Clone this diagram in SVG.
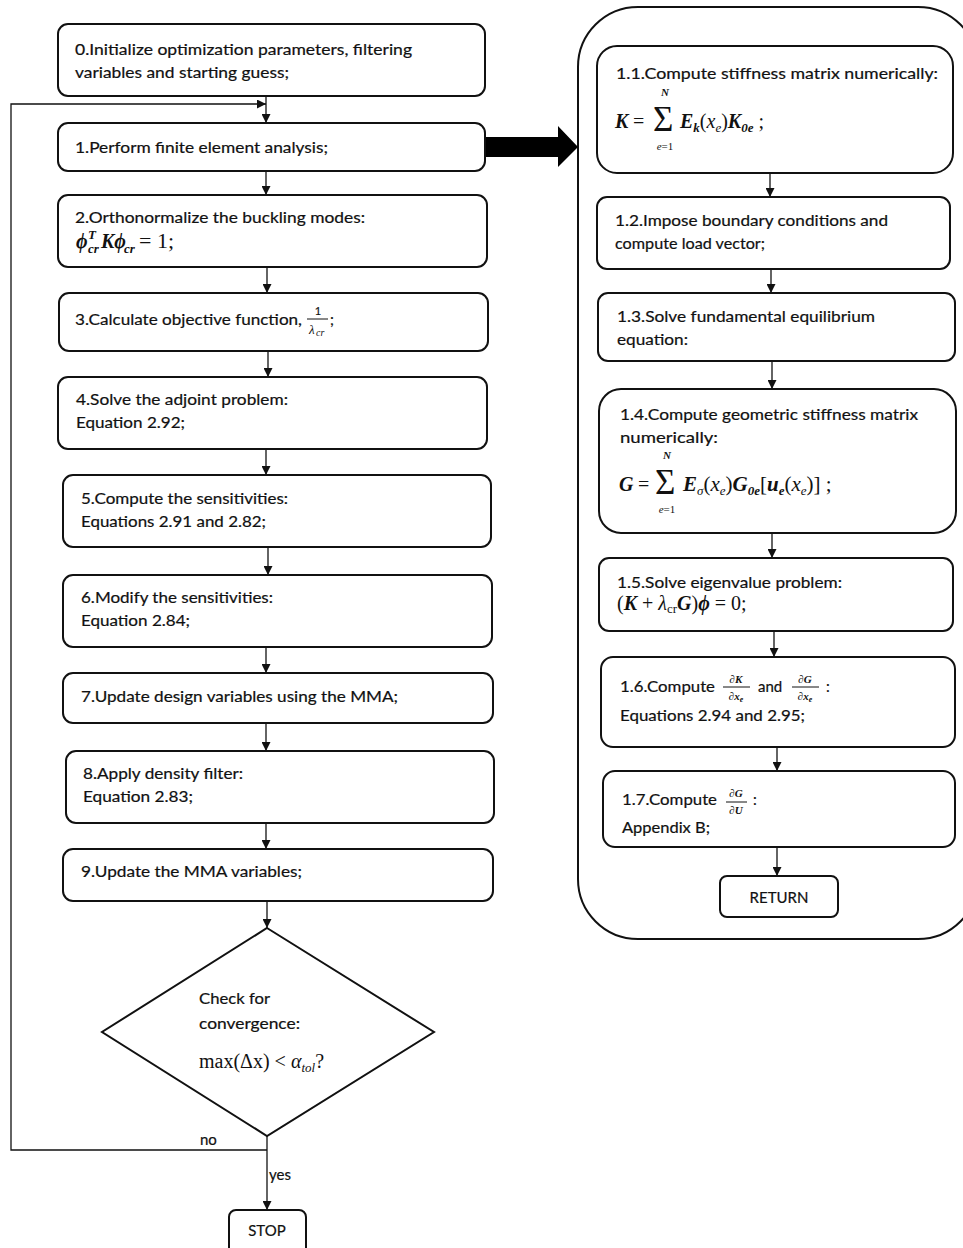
<svg xmlns="http://www.w3.org/2000/svg" width="963" height="1248" viewBox="0 0 963 1248">
<defs>
<style>
.bx{fill:#fff;stroke:#111;stroke-width:2}
.t{font-family:Lato,"Open Sans","Liberation Sans",sans-serif;font-size:15px;fill:#111;stroke:#111;stroke-width:0.2}
.m{font-family:"Liberation Serif","DejaVu Serif",serif;font-size:20px;fill:#111}
.bi{font-weight:bold;font-style:italic}
.i{font-style:italic}
.s{font-size:13px}
.f{font-size:11px}
.sig{font-size:35px}
.c line,.c polyline{stroke:#111;stroke-width:1.3;fill:none}
.fl{stroke:#111;stroke-width:1}
</style>
<marker id="ah" viewBox="0 0 10 10" refX="10" refY="5" markerWidth="9" markerHeight="9" markerUnits="userSpaceOnUse" orient="auto"><path d="M0,0L10,5L0,10z" fill="#111"/></marker>
</defs>
<rect width="963" height="1248" fill="#fff"/>

<g id="panel"><rect class="bx" x="578" y="7" width="400" height="932" rx="60"/></g>

<g class="c" id="connectors">
<line x1="266" y1="96" x2="266" y2="123" marker-end="url(#ah)"/>
<line x1="266" y1="171" x2="266" y2="195" marker-end="url(#ah)"/>
<line x1="267" y1="267" x2="267" y2="293" marker-end="url(#ah)"/>
<line x1="268" y1="351" x2="268" y2="377" marker-end="url(#ah)"/>
<line x1="266" y1="449" x2="266" y2="475" marker-end="url(#ah)"/>
<line x1="268" y1="547" x2="268" y2="575" marker-end="url(#ah)"/>
<line x1="266" y1="647" x2="266" y2="673" marker-end="url(#ah)"/>
<line x1="266" y1="723" x2="266" y2="751" marker-end="url(#ah)"/>
<line x1="266" y1="823" x2="266" y2="849" marker-end="url(#ah)"/>
<line x1="267" y1="901" x2="267" y2="928" marker-end="url(#ah)"/>
<line x1="267" y1="1136" x2="267" y2="1210" marker-end="url(#ah)"/>
<polyline points="267,1150 11,1150 11,104 266,104" marker-end="url(#ah)"/>
<polygon points="485,137 558,137 558,126 578,147 558,167 558,157 485,157" fill="#000"/>
<line x1="770" y1="173" x2="770" y2="197" marker-end="url(#ah)"/>
<line x1="771" y1="269" x2="771" y2="293" marker-end="url(#ah)"/>
<line x1="772" y1="361" x2="772" y2="389" marker-end="url(#ah)"/>
<line x1="772" y1="533" x2="772" y2="558" marker-end="url(#ah)"/>
<line x1="774" y1="631" x2="774" y2="657" marker-end="url(#ah)"/>
<line x1="777" y1="747" x2="777" y2="771" marker-end="url(#ah)"/>
<line x1="777" y1="847" x2="777" y2="876" marker-end="url(#ah)"/>
</g>

<g id="n0"><rect class="bx" x="58" y="24" width="427" height="72" rx="10"/>
<text class="t" x="75" y="55" textLength="337" lengthAdjust="spacingAndGlyphs">0.Initialize optimization parameters, filtering</text>
<text class="t" x="75" y="78" textLength="214" lengthAdjust="spacingAndGlyphs">variables and starting guess;</text></g>

<g id="n1"><rect class="bx" x="58" y="123" width="427" height="48" rx="10"/>
<text class="t" x="75" y="153" textLength="253" lengthAdjust="spacingAndGlyphs">1.Perform finite element analysis;</text></g>

<g id="n2"><rect class="bx" x="58" y="195" width="429" height="72" rx="10"/>
<text class="t" x="75" y="223" textLength="290" lengthAdjust="spacingAndGlyphs">2.Orthonormalize the buckling modes:</text>
<text class="m bi" x="76" y="248">ϕ</text>
<text class="m bi s" x="88" y="239">T</text>
<text class="m bi s" x="88" y="253">cr</text>
<text class="m bi" x="101" y="248">Kϕ</text>
<text class="m bi s" x="124" y="253">cr</text>
<text class="m" x="139" y="248" style="font-size:22px">= 1;</text></g>

<g id="n3"><rect class="bx" x="59" y="293" width="429" height="58" rx="10"/>
<text class="t" x="75" y="325" textLength="227" lengthAdjust="spacingAndGlyphs">3.Calculate objective function,</text>
<text class="t" x="318" y="315" text-anchor="middle" style="font-size:11px">1</text>
<line class="fl" x1="307" y1="319" x2="328" y2="319"/>
<text class="m i" x="309" y="334" style="font-size:13px">λ</text>
<text class="m i" x="316" y="336" style="font-size:10px">cr</text>
<text class="t" x="330" y="325">;</text></g>

<g id="n4"><rect class="bx" x="58" y="377" width="429" height="72" rx="10"/>
<text class="t" x="76" y="405" textLength="212" lengthAdjust="spacingAndGlyphs">4.Solve the adjoint problem:</text>
<text class="t" x="76" y="428" textLength="109" lengthAdjust="spacingAndGlyphs">Equation 2.92;</text></g>

<g id="n5"><rect class="bx" x="63" y="475" width="428" height="72" rx="10"/>
<text class="t" x="81" y="504" textLength="207" lengthAdjust="spacingAndGlyphs">5.Compute the sensitivities:</text>
<text class="t" x="81" y="527" textLength="185" lengthAdjust="spacingAndGlyphs">Equations 2.91 and 2.82;</text></g>

<g id="n6"><rect class="bx" x="63" y="575" width="429" height="72" rx="10"/>
<text class="t" x="81" y="603" textLength="192" lengthAdjust="spacingAndGlyphs">6.Modify the sensitivities:</text>
<text class="t" x="81" y="626" textLength="109" lengthAdjust="spacingAndGlyphs">Equation 2.84;</text></g>

<g id="n7"><rect class="bx" x="63" y="673" width="430" height="50" rx="10"/>
<text class="t" x="81" y="702" textLength="317" lengthAdjust="spacingAndGlyphs">7.Update design variables using the MMA;</text></g>

<g id="n8"><rect class="bx" x="66" y="751" width="428" height="72" rx="10"/>
<text class="t" x="83" y="779" textLength="160" lengthAdjust="spacingAndGlyphs">8.Apply density filter:</text>
<text class="t" x="83" y="802" textLength="110" lengthAdjust="spacingAndGlyphs">Equation 2.83;</text></g>

<g id="n9"><rect class="bx" x="63" y="849" width="430" height="52" rx="10"/>
<text class="t" x="81" y="877" textLength="221" lengthAdjust="spacingAndGlyphs">9.Update the MMA variables;</text></g>

<g id="decision"><polygon class="bx" points="267,928 434,1032 267,1136 102,1032"/>
<text class="t" x="199" y="1004" textLength="71" lengthAdjust="spacingAndGlyphs">Check for</text>
<text class="t" x="199" y="1029" textLength="101" lengthAdjust="spacingAndGlyphs">convergence:</text>
<text class="m" x="199" y="1068">max(Δx) &lt; <tspan class="i">α</tspan><tspan class="i s" dy="4">tol</tspan><tspan dy="-4">?</tspan></text></g>

<g id="labels">
<text class="t" x="200" y="1145">no</text>
<text class="t" x="269" y="1180">yes</text></g>

<g id="stop"><rect class="bx" x="229" y="1210" width="77" height="45" rx="7"/>
<text class="t" x="267" y="1236" text-anchor="middle">STOP</text></g>

<g id="n11"><rect class="bx" x="597" y="46" width="356" height="127" rx="20"/>
<text class="t" x="616" y="79" textLength="322" lengthAdjust="spacingAndGlyphs">1.1.Compute stiffness matrix numerically:</text>
<text class="m bi" x="615" y="128">K</text>
<text class="m" x="633" y="128">=</text>
<text class="m sig" x="653" y="131">Σ</text>
<text class="m bi f" x="665" y="96" text-anchor="middle">N</text>
<text class="m f" x="665" y="150" text-anchor="middle"><tspan class="i">e</tspan>=1</text>
<text class="m" x="680" y="128"><tspan class="bi">E</tspan><tspan class="bi s" dy="4">k</tspan><tspan dy="-4">(</tspan><tspan class="i">x</tspan><tspan class="i s" dy="4">e</tspan><tspan dy="-4">)</tspan><tspan class="bi">K</tspan><tspan class="bi s" dy="4">0e</tspan><tspan dy="-4"> ;</tspan></text></g>

<g id="n12"><rect class="bx" x="597" y="197" width="353" height="72" rx="10"/>
<text class="t" x="615" y="226" textLength="273" lengthAdjust="spacingAndGlyphs">1.2.Impose boundary conditions and</text>
<text class="t" x="615" y="249" textLength="150" lengthAdjust="spacingAndGlyphs">compute load vector;</text></g>

<g id="n13"><rect class="bx" x="598" y="293" width="357" height="68" rx="10"/>
<text class="t" x="617" y="322" textLength="258" lengthAdjust="spacingAndGlyphs">1.3.Solve fundamental equilibrium</text>
<text class="t" x="617" y="345" textLength="71" lengthAdjust="spacingAndGlyphs">equation:</text></g>

<g id="n14"><rect class="bx" x="599" y="389" width="357" height="144" rx="22"/>
<text class="t" x="620" y="420" textLength="298" lengthAdjust="spacingAndGlyphs">1.4.Compute geometric stiffness matrix</text>
<text class="t" x="620" y="443" textLength="98" lengthAdjust="spacingAndGlyphs">numerically:</text>
<text class="m bi" x="619" y="491">G</text>
<text class="m" x="638" y="491">=</text>
<text class="m sig" x="655" y="494">Σ</text>
<text class="m bi f" x="667" y="459" text-anchor="middle">N</text>
<text class="m f" x="667" y="513" text-anchor="middle"><tspan class="i">e</tspan>=1</text>
<text class="m" x="683" y="491" style="font-size:21px"><tspan class="bi">E</tspan><tspan class="i s" dy="4">σ</tspan><tspan dy="-4">(</tspan><tspan class="i">x</tspan><tspan class="i s" dy="4">e</tspan><tspan dy="-4">)</tspan><tspan class="bi">G</tspan><tspan class="bi s" dy="4">0e</tspan><tspan dy="-4">[</tspan><tspan class="bi">u</tspan><tspan class="bi s" dy="4">e</tspan><tspan dy="-4">(</tspan><tspan class="i">x</tspan><tspan class="i s" dy="4">e</tspan><tspan dy="-4">)] ;</tspan></text></g>

<g id="n15"><rect class="bx" x="599" y="558" width="354" height="73" rx="10"/>
<text class="t" x="617" y="588" textLength="225" lengthAdjust="spacingAndGlyphs">1.5.Solve eigenvalue problem:</text>
<text class="m" x="617" y="610">(<tspan class="bi">K</tspan> + <tspan class="i">λ</tspan><tspan class="s" dy="3">cr</tspan><tspan class="bi" dy="-3">G</tspan>)<tspan class="bi">ϕ</tspan> = 0;</text></g>

<g id="n16"><rect class="bx" x="601" y="657" width="354" height="90" rx="12"/>
<text class="t" x="620" y="692" textLength="95" lengthAdjust="spacingAndGlyphs">1.6.Compute</text>
<text class="m bi f" x="736" y="683" text-anchor="middle">∂K</text>
<line class="fl" x1="723" y1="687" x2="750" y2="687"/>
<text class="m bi f" x="736" y="700" text-anchor="middle">∂x<tspan font-size="8" dy="2">e</tspan></text>
<text class="t" x="758" y="692">and</text>
<text class="m bi f" x="805" y="683" text-anchor="middle">∂G</text>
<line class="fl" x1="792" y1="687" x2="819" y2="687"/>
<text class="m bi f" x="805" y="700" text-anchor="middle">∂x<tspan font-size="8" dy="2">e</tspan></text>
<text class="t" x="826" y="692">:</text>
<text class="t" x="620" y="721" textLength="185" lengthAdjust="spacingAndGlyphs">Equations 2.94 and 2.95;</text></g>

<g id="n17"><rect class="bx" x="603" y="771" width="352" height="76" rx="12"/>
<text class="t" x="622" y="805" textLength="95" lengthAdjust="spacingAndGlyphs">1.7.Compute</text>
<text class="m bi f" x="736" y="797" text-anchor="middle">∂G</text>
<line class="fl" x1="726" y1="802" x2="747" y2="802"/>
<text class="m bi f" x="736" y="814" text-anchor="middle">∂U</text>
<text class="t" x="753" y="805">:</text>
<text class="t" x="622" y="833" textLength="88" lengthAdjust="spacingAndGlyphs">Appendix B;</text></g>

<g id="ret"><rect class="bx" x="720" y="876" width="118" height="41" rx="7"/>
<text class="t" x="779" y="903" text-anchor="middle">RETURN</text></g>
</svg>
